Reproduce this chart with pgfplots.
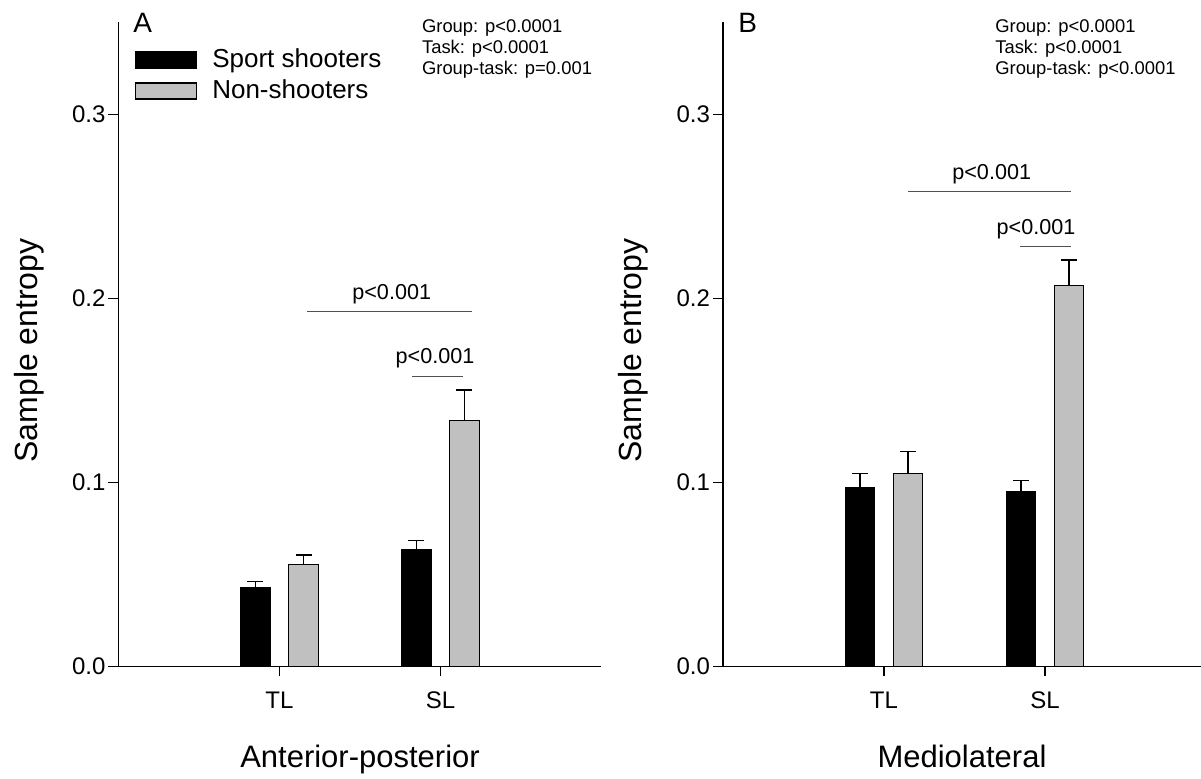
\documentclass[border=0pt]{standalone}
\usepackage{fontspec}
\setmainfont{Liberation Sans}
\usepackage{pgfplots}
\pgfplotsset{compat=1.18}
\usepackage{pgfplotstable}

\definecolor{barg}{RGB}{192,192,192}
\definecolor{brk}{RGB}{80,80,80}

% Panel A: anterior-posterior
\pgfplotstableread{
x y e
1 0.0428 0.0033
2 0.0636 0.0049
}\Ablack
\pgfplotstableread{
x y e
1 0.0554 0.0051
2 0.1335 0.0167
}\Agray
% Panel B: mediolateral
\pgfplotstableread{
x y e
1 0.0970 0.0080
2 0.0950 0.0060
}\Bblack
\pgfplotstableread{
x y e
1 0.1050 0.0120
2 0.2070 0.0140
}\Bgray

\pgfplotsset{
  myax/.style={
    scale only axis,
    height=322pt,
    ybar=9.25pt, bar width=14.75pt,
    xmin=0, ymin=0, ymax=0.35,
    axis x line*=bottom, axis y line*=left,
    axis line style={line width=0.6pt, -},
    tick align=outside, major tick length=5pt,
    tick style={line width=0.6pt, black},
    xtick={1,2}, xticklabels={TL,SL},
    ytick={0,0.1,0.2,0.3},
    /pgf/number format/assume math mode=true,
    y tick label style={/pgf/number format/fixed, /pgf/number format/fixed zerofill, /pgf/number format/precision=1, xshift=2pt},
    x tick label style={yshift=-4pt},
    tick label style={font=\fontsize{12}{14}\selectfont},
    xlabel style={font=\fontsize{15.5}{18}\selectfont, anchor=base},
    ylabel style={font=\fontsize{16}{18}\selectfont, anchor=base, rotate=0},
    clip=false,
  },
  legbox/.style={legend image code/.code={
      \path[draw=none, fill=none] (0pt,0pt) rectangle (38.35pt,8pt);
      \draw[line width=0.6pt, draw=black, fill=#1] (0pt,0pt) rectangle (30.5pt,8pt);
    }},
  barerr/.style={
    error bars/.cd, y dir=plus, y explicit,
    error bar style={line width=0.7pt, black, solid},
    error mark=-,
    error mark options={rotate=90, line width=0.7pt, black, mark size=4pt, solid}},
}

\begin{document}
\begin{tikzpicture}
\begin{axis}[myax, width=241.5pt, xmax=3,
  xlabel={Anterior-posterior}, ylabel={Sample entropy},
  xlabel style={at={(axis description cs:0.5,-0.1576)}},
  ylabel style={at={(axis description cs:-0.1687,0.4907)}},
  legend style={at={(axis description cs:0.0342,0.9604)}, anchor=north west,
    draw=none, fill=none, inner sep=0pt, outer sep=0pt, row sep=0pt,
    font=\fontsize{13}{15}\selectfont,
    cells={anchor=base west},
    nodes={inner sep=0pt, text height=10pt, text depth=5.5pt}},
]
\addplot[fill=black, draw=black, line width=0.6pt, legbox=black, barerr] table[x=x, y=y, y error=e]{\Ablack};
\addlegendentry{Sport shooters}
\addplot[fill=barg, draw=black, line width=0.6pt, legbox=barg, barerr] table[x=x, y=y, y error=e]{\Agray};
\addlegendentry{Non-shooters}

\node[anchor=base west, inner sep=0pt, font=\fontsize{14}{16}\selectfont] at (axis cs:0.09,0.3448) {A};
\node[anchor=base west, inner sep=0pt, font=\fontsize{9.2}{11}\selectfont] at (axis cs:1.883,0.3448) {Group: p<0.0001};
\node[anchor=base west, inner sep=0pt, font=\fontsize{9.2}{11}\selectfont] at (axis cs:1.883,0.3334) {Task: p<0.0001};
\node[anchor=base west, inner sep=0pt, font=\fontsize{9.2}{11}\selectfont] at (axis cs:1.883,0.3220) {Group-task: p=0.001};

\draw[brk, line width=0.5pt] (axis cs:1.171,0.1927) -- (axis cs:2.194,0.1927);
\node[anchor=base, inner sep=0pt, font=\fontsize{10.8}{12}\selectfont] at (axis cs:1.697,0.1992) {p<0.001};
\draw[brk, line width=0.5pt] (axis cs:1.823,0.1577) -- (axis cs:2.140,0.1577);
\node[anchor=base, inner sep=0pt, font=\fontsize{10.8}{12}\selectfont] at (axis cs:1.966,0.1644) {p<0.001};
\end{axis}

\begin{axis}[myax, at={(302.25pt,0pt)}, width=239pt, xmax=2.969,
  xlabel={Mediolateral}, ylabel={Sample entropy},
  xlabel style={at={(axis description cs:0.5,-0.1576)}},
  ylabel style={at={(axis description cs:-0.1705,0.4907)}},
]
\addplot[fill=black, draw=black, line width=0.6pt, barerr] table[x=x, y=y, y error=e]{\Bblack};
\addplot[fill=barg, draw=black, line width=0.6pt, barerr] table[x=x, y=y, y error=e]{\Bgray};

\node[anchor=base west, inner sep=0pt, font=\fontsize{14}{16}\selectfont] at (axis cs:0.093,0.3448) {B};
\node[anchor=base west, inner sep=0pt, font=\fontsize{9.2}{11}\selectfont] at (axis cs:1.689,0.3448) {Group: p<0.0001};
\node[anchor=base west, inner sep=0pt, font=\fontsize{9.2}{11}\selectfont] at (axis cs:1.689,0.3334) {Task: p<0.0001};
\node[anchor=base west, inner sep=0pt, font=\fontsize{9.2}{11}\selectfont] at (axis cs:1.689,0.3220) {Group-task: p<0.0001};

\draw[brk, line width=0.5pt] (axis cs:1.149,0.2584) -- (axis cs:2.161,0.2584);
\node[anchor=base, inner sep=0pt, font=\fontsize{10.8}{12}\selectfont] at (axis cs:1.669,0.2649) {p<0.001};
\draw[brk, line width=0.5pt] (axis cs:1.845,0.2285) -- (axis cs:2.161,0.2285);
\node[anchor=base, inner sep=0pt, font=\fontsize{10.8}{12}\selectfont] at (axis cs:1.944,0.2350) {p<0.001};
\end{axis}

\pgfresetboundingbox
\path[use as bounding box] (-59.25pt,-56.25pt) rectangle (541.25pt,333.25pt);
\end{tikzpicture}
\end{document}
